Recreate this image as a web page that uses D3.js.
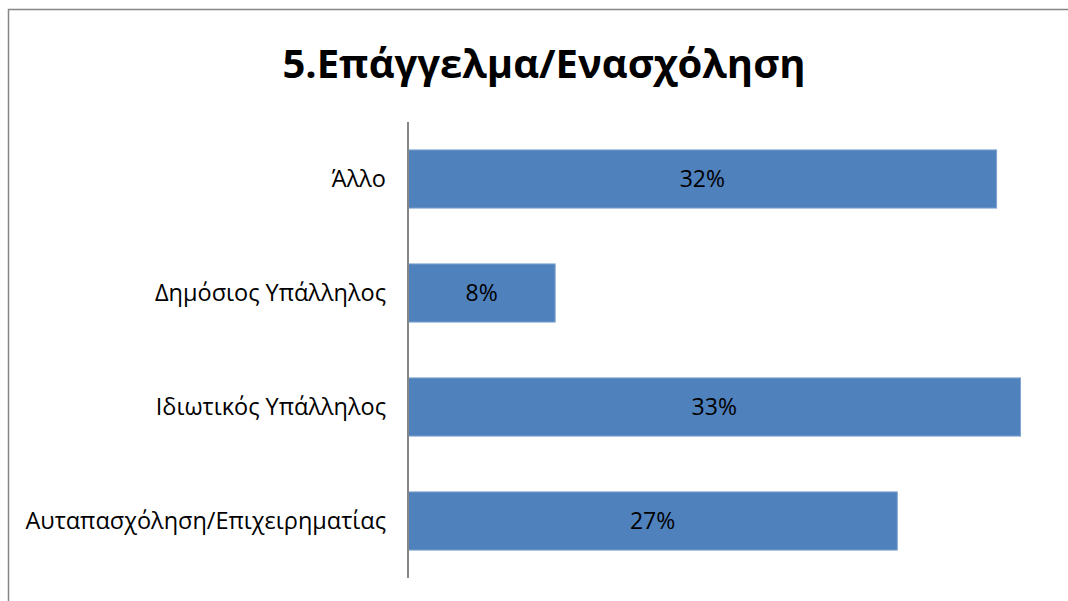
<!DOCTYPE html>
<html>
<head>
<meta charset="utf-8">
<script src="https://cdn.jsdelivr.net/npm/d3@7"></script>
<style>
  html, body { margin: 0; padding: 0; background: #fff; overflow: hidden; }
  svg { display: block; }
</style>
</head>
<body>
<svg id="chart" width="1068" height="601"></svg>
<script>
// Occupation categories, top to bottom, and their shares
const categories = ["Άλλο", "Δημόσιος Υπάλληλος", "Ιδιωτικός Υπάλληλος", "Αυταπασχόληση/Επιχειρηματίας"];
const shares = [0.32, 0.08, 0.333, 0.266];
const titleText = "5.Επάγγελμα/Ενασχόληση";

const W = 1068, H = 601;
const font = "'Open Sans', 'Noto Sans', sans-serif";
const svg = d3.select("#chart");

// chart frame (top and left edges fall inside the view)
svg.append("path")
  .attr("d", `M8.5,${H}V9.5H${W}`)
  .attr("fill", "none").attr("stroke", "#868686").attr("stroke-width", 1.5);

svg.append("text")
  .attr("x", 544).attr("y", 78)
  .attr("text-anchor", "middle")
  .attr("font-family", font).attr("font-weight", "bold")
  .attr("font-size", 40)
  .attr("fill", "#000")
  .text(titleText);

const plotLeft = 408, plotTop = 122, plotBottom = 578;
const x = d3.scaleLinear().domain([0, 0.33]).range([plotLeft, 1015]);
const y = d3.scaleBand().domain(categories).range([plotTop, plotBottom]).paddingInner(0.49).paddingOuter(0.245);

// bars
svg.append("g").selectAll("rect")
  .data(categories)
  .join("rect")
  .attr("x", x(0))
  .attr("y", d => y(d))
  .attr("width", (d, i) => x(shares[i]) - x(0))
  .attr("height", y.bandwidth())
  .attr("fill", "#4f81bd")
  .attr("stroke", "#7fa3d0").attr("stroke-width", 1);

// value labels
const pct = d3.format(".0%");
svg.append("g").selectAll("text")
  .data(categories)
  .join("text")
  .attr("x", (d, i) => (x(0) + x(shares[i])) / 2)
  .attr("y", d => y(d) + y.bandwidth() / 2)
  .attr("dy", "0.36em")
  .attr("text-anchor", "middle")
  .attr("font-family", font).attr("font-size", 23)
  .attr("fill", "#000")
  .text((d, i) => pct(shares[i]));

// category axis
const axis = d3.axisLeft(y).tickSize(0).tickPadding(22);
const gAxis = svg.append("g").attr("transform", `translate(${plotLeft},0)`).call(axis);
gAxis.select(".domain").attr("stroke", "#868686").attr("stroke-width", 2).attr("d", `M0,${plotTop}V${plotBottom}`);
gAxis.selectAll(".tick text")
  .attr("dy", "0.36em")
  .attr("font-family", font).attr("font-size", 23.5).attr("fill", "#000");
</script>
</body>
</html>
